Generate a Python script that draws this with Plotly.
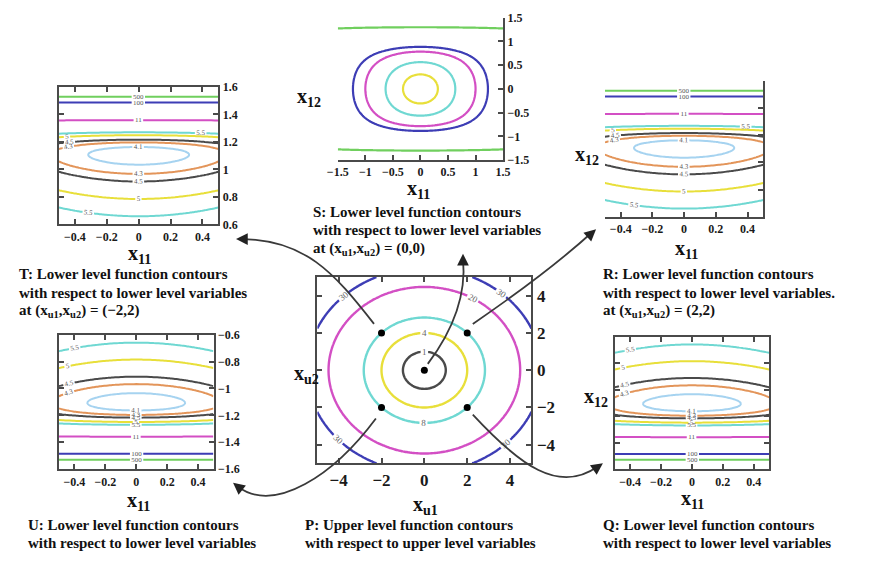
import numpy as np
import plotly.graph_objects as go

W, H = 878, 562
FONT = 'Liberation Serif'

# ---------------- data ----------------
# Panel P: upper level function F = xu1^2 + xu2^2
P_LEVELS = [1, 4, 8, 20, 30]
P_COLORS = ['#4a4a4a', '#e8df3a', '#6fd8d2', '#d34fc4', '#3d3db5']
P_POINTS_X = [0, -2, 2, -2, 2]
P_POINTS_Y = [0, 2, 2, -2, -2]
P_TICKS = [-4, -2, 0, 2, 4]

# Lower level function f = xu1^2 + x11^2 + (xu2 - tan x12)^2
LL_LEVELS = [4.1, 4.3, 4.5, 5, 5.5, 11, 100, 500]
LL_COLORS = ['#a6d3f0', '#e3955a', '#4a4a4a', '#e8df3a', '#6fd8d2', '#d34fc4', '#3d3db5', '#70cf5e']

# Panel S (xu1, xu2) = (0, 0)
S_LEVELS = [0.1, 0.4, 1, 1.5, 13]
S_COLORS = ['#e8df3a', '#6fd8d2', '#d34fc4', '#3d3db5', '#70cf5e']
S_TICKS = [-1.5, -1, -0.5, 0, 0.5, 1, 1.5]

# Panels T, R, U, Q
LL_NAMES = ['T', 'R', 'U', 'Q']
LL_XU1 = [-2, 2, -2, 2]
LL_XU2 = [2, 2, -2, -2]
LL_YRANGE = [[0.6, 1.6], [0.6, 1.6], [-1.6, -0.6], [-1.6, -0.6]]
X11_TICKS = [-0.4, -0.2, 0, 0.2, 0.4]
Y_TICKS_POS = [0.6, 0.8, 1, 1.2, 1.4, 1.6]
Y_TICKS_NEG = [-1.6, -1.4, -1.2, -1, -0.8, -0.6]

# ---------------- layout helpers ----------------
def X(p):
    return p / W

def Y(p):
    return 1 - p / H

# pixel boxes [left, right, top, bottom]
BOX = {
    'T': (49, 212, 82, 223),
    'S': (334, 503, 11, 157),
    'R': (607, 769, 76, 215),
    'P': (313, 532, 277, 468),
    'U': (49, 207, 336, 474),
    'Q': (617, 775, 338, 474),
}
AXIS_ID = {'T': 1, 'S': 2, 'R': 3, 'P': 4, 'U': 5, 'Q': 6}

fig = go.Figure()

def add_level(xs, ys, z, level, color, name, width=2.0, labels=True, lsize=8, lcolor='#555'):
    i = AXIS_ID[name]
    fig.add_trace(go.Contour(
        x=xs, y=ys, z=z.astype(np.float32),
        xaxis='x%d' % i, yaxis='y%d' % i,
        autocontour=False,
        contours=dict(start=level, end=level, size=1, coloring='none',
                      showlabels=labels,
                      labelfont=dict(size=lsize, color=lcolor, family=FONT)),
        line=dict(color=color, width=width),
        showscale=False, hoverinfo='skip', showlegend=False))

# Panel P
pg = np.linspace(-5, 5, 121)
PX, PY = np.meshgrid(pg, pg)
PZ = PX ** 2 + PY ** 2
for lv, c in zip(P_LEVELS, P_COLORS):
    add_level(pg, pg, PZ, lv, c, 'P', width=2.4, lsize=9, lcolor='#666')
fig.add_trace(go.Scatter(x=P_POINTS_X, y=P_POINTS_Y, mode='markers',
                         marker=dict(color='black', size=7),
                         xaxis='x4', yaxis='y4', showlegend=False, hoverinfo='skip'))

# Panel S
sg = np.linspace(-1.5, 1.5, 141)
SX, SY = np.meshgrid(sg, sg)
SZ = np.minimum(SX ** 2 + np.tan(SY) ** 2, 5000)
for lv, c in zip(S_LEVELS, S_COLORS):
    add_level(sg, sg, SZ, lv, c, 'S', width=2.2, labels=False)

# Panels T, R, U, Q
x11 = np.linspace(-0.5, 0.5, 45)
for nm, a, b, yr in zip(LL_NAMES, LL_XU1, LL_XU2, LL_YRANGE):
    x12 = np.linspace(yr[0], yr[1], 241)
    GX, GY = np.meshgrid(x11, x12)
    GZ = np.minimum(a ** 2 + GX ** 2 + (b - np.tan(GY)) ** 2, 5000)
    for lv, c in zip(LL_LEVELS, LL_COLORS):
        add_level(x11, x12, GZ, lv, c, nm, width=2.0, lsize=7, lcolor='#555')

# ---------------- axes ----------------
def axis(dom, rng, tickvals, side, showlabels=True, mirror='ticks', fsize=12, anchor=None):
    d = dict(domain=dom, range=rng, tickvals=tickvals, side=side,
             showgrid=False, zeroline=False, showline=True,
             linecolor='#4a4a4a', linewidth=2, mirror=mirror,
             ticks='inside', ticklen=5, tickwidth=1.5, tickcolor='#4a4a4a',
             showticklabels=showlabels,
             tickfont=dict(family=FONT, size=fsize, color='#1a1a1a', weight='bold'),
             anchor=anchor)
    return d

lay = {}
for nm in ['T', 'S', 'R', 'P', 'U', 'Q']:
    i = AXIS_ID[nm]
    l, r, t, b = BOX[nm]
    xd = [X(l), X(r)]
    yd = [Y(b), Y(t)]
    if nm == 'P':
        xa = axis(xd, [-5, 5], P_TICKS, 'bottom', fsize=17, anchor='y4')
        ya = axis(yd, [-5, 5], P_TICKS, 'right', fsize=17, anchor='x4')
    elif nm == 'S':
        xa = axis(xd, [-1.5, 1.5], S_TICKS, 'bottom', mirror=False, anchor='y2')
        ya = axis(yd, [-1.5, 1.5], S_TICKS, 'right', mirror=False, anchor='x2')
    else:
        k = LL_NAMES.index(nm)
        yr = LL_YRANGE[k]
        yt = Y_TICKS_POS if yr[0] > 0 else Y_TICKS_NEG
        mir = False if nm == 'R' else 'ticks'
        xa = axis(xd, [-0.5, 0.5], X11_TICKS, 'bottom', mirror=mir, anchor='y%d' % i)
        ya = axis(yd, yr, yt, 'right', showlabels=(nm in ('T', 'U')), mirror=mir,
                  anchor='x%d' % i)
    lay['xaxis' if i == 1 else 'xaxis%d' % i] = xa
    lay['yaxis' if i == 1 else 'yaxis%d' % i] = ya

# ---------------- text ----------------
ann = []

def text(px_, py_, s, size=15, anchor='left'):
    ann.append(dict(x=X(px_), y=Y(py_), xref='paper', yref='paper', text=s,
                    showarrow=False, xanchor=anchor, yanchor='middle',
                    font=dict(family=FONT, size=size, color='#111', weight='bold')))

def lines(px_, py0, rows, dy=19):
    for k, s in enumerate(rows):
        text(px_, py0 + k * dy, s)

AT = 'at (x<sub>u1</sub>,x<sub>u2</sub>) = '
lines(6, 274, ['T: Lower level function contours',
               'with respect to lower level variables',
               AT + '(\u22122,2)'])
lines(307, 210, ['S: Lower level function contours',
                 'with respect to lower level variables',
                 AT + '(0,0)'])
lines(603, 274, ['R: Lower level function contours',
                 'with respect to lower level variables.',
                 AT + '(2,2)'])
lines(15, 531, ['U: Lower level function contours',
                'with respect to lower level variables'])
lines(298, 531, ['P: Upper level function contours',
                 'with respect to upper level variables'])
lines(603, 531, ['Q: Lower level function contours',
                 'with respect to lower level variables'])

# axis titles
XL = 'x<sub>11</sub>'
XL2 = 'x<sub>12</sub>'
TS = 20
text(131, 254, XL, size=TS, anchor='center')
text(417, 187, XL, size=TS, anchor='center')
text(305, 93, XL2, size=TS, anchor='center')
text(690, 249, XL, size=TS, anchor='center')
text(589, 152, XL2, size=TS, anchor='center')
text(424, 511, 'x<sub>u1</sub>', size=TS, anchor='center')
text(302, 377, 'x<sub>u2</sub>', size=TS, anchor='center')
text(697, 505, XL, size=TS, anchor='center')
text(598, 400, XL2, size=TS, anchor='center')
text(130, 507, XL, size=TS, anchor='center')

# ---------------- arrows ----------------
ARROWS = [
    # path points (pixels), tip, tail offset
    ([(371, 325), (330, 272), (300, 238), (234, 238)], (230, 238), (12, 0)),
    ([(426, 366), (447, 338), (466, 300), (462, 258)], (462, 253), (0, 12)),
    ([(472, 325), (520, 292), (560, 262), (594, 231)], (598, 228), (-9, 8)),
    ([(472, 418), (520, 470), (560, 500), (600, 471)], (605, 468), (-10, 7)),
    ([(373, 422), (330, 480), (270, 520), (232, 492)], (227, 488), (10, 8)),
]
shapes = []
for pts, tip, off in ARROWS:
    (x0, y0), (x1, y1), (x2, y2), (x3, y3) = pts
    p = 'M %.4f %.4f C %.4f %.4f, %.4f %.4f, %.4f %.4f' % (
        X(x0), Y(y0), X(x1), Y(y1), X(x2), Y(y2), X(x3), Y(y3))
    shapes.append(dict(type='path', path=p, xref='paper', yref='paper',
                       line=dict(color='#3a3a3a', width=1.8)))
    ann.append(dict(x=X(tip[0]), y=Y(tip[1]), xref='paper', yref='paper', text='',
                    showarrow=True, ax=off[0], ay=off[1], arrowhead=2, arrowsize=1.3,
                    arrowwidth=1.8, arrowcolor='#222', standoff=0))

fig.update_layout(
    width=W, height=H, margin=dict(l=0, r=0, t=0, b=0),
    paper_bgcolor='white', plot_bgcolor='white',
    showlegend=False, annotations=ann, shapes=shapes, **lay)

fig.write_html('out.html')
